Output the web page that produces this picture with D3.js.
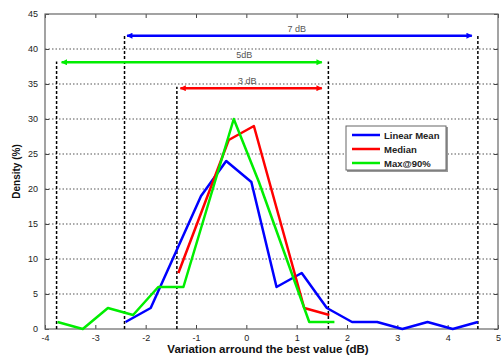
<!DOCTYPE html>
<html>
<head>
<meta charset="utf-8">
<script src="https://cdn.jsdelivr.net/npm/d3@7"></script>
<style>
  body { margin: 0; background: #fff; }
  svg { display: block; font-family: Arial, "Liberation Sans", sans-serif; }
</style>
</head>
<body>
<svg id="chart" width="501" height="356"></svg>
<script>
// Linear mean
const meanX = [-2.4, -1.9, -1.4, -0.9, -0.4, 0.1, 0.6, 1.1, 1.6, 2.1, 2.6, 3.1, 3.6, 4.1, 4.6];
const meanY = [1, 3, 11, 19, 24, 21, 6, 8, 3, 1, 1, 0, 1, 0, 1];
// Median
const medianX = [-1.35, -0.85, -0.35, 0.15, 0.65, 1.15, 1.65];
const medianY = [8, 17.5, 27, 29, 16, 3, 2];
// Max@90%
const maxX = [-3.75, -3.25, -2.75, -2.25, -1.75, -1.25, -0.75, -0.25, 0.25, 0.75, 1.25, 1.75];
const maxY = [1, 0, 3, 2, 6, 6, 18, 30, 21, 11, 1, 1];

const seriesNames = ['Linear Mean', 'Median', 'Max@90%'];
const seriesColors = ['#0000ff', '#ff0000', '#00ee00'];

const xTicks = [-4, -3, -2, -1, 0, 1, 2, 3, 4, 5];
const yTicks = [0, 5, 10, 15, 20, 25, 30, 35, 40, 45];

// spread markers: [x, top]
const vLines = [[-3.77, 38.2], [-2.42, 42], [-1.38, 34.6], [1.63, 38.2], [4.6, 42]];
// spread arrows (blue 7 dB, green 5 dB, red 3 dB)
const arrowFrom = [-2.37, -3.67, -1.31];
const arrowTo = [4.48, 1.5, 1.5];
const arrowY = [41.9, 38.1, 34.4];
const arrowLabels = ['7 dB', '5dB', '3 dB'];
const arrowColors = ['#0000ff', '#00ee00', '#ff0000'];
const labelX = [1.0, -0.04, 0.02];

const svg = d3.select('#chart');
const margin = { top: 14, right: 2, bottom: 27, left: 45 };
const height = 356 - margin.top - margin.bottom;

const x = d3.scaleLinear().domain([-4, 5]).range([0, 453]);
const y = d3.scaleLinear().domain([0, 45]).range([height, 0]);

const defs = svg.append('defs');
arrowColors.forEach((c, i) => {
  defs.append('marker')
    .attr('id', 'ah' + i)
    .attr('viewBox', '0 0 10 10')
    .attr('refX', 9).attr('refY', 5)
    .attr('markerWidth', 9).attr('markerHeight', 6)
    .attr('markerUnits', 'userSpaceOnUse')
    .attr('orient', 'auto-start-reverse')
    .append('path')
    .attr('d', 'M0,0 L10,5 L0,10 z')
    .attr('fill', c);
});

const g = svg.append('g').attr('transform', `translate(${margin.left},${margin.top})`);

// horizontal grid
g.append('g')
  .selectAll('line')
  .data(yTicks.filter(t => t > 0 && t < 45))
  .enter().append('line')
  .attr('x1', 0).attr('x2', x(5))
  .attr('y1', d => y(d)).attr('y2', d => y(d))
  .attr('stroke', '#555')
  .attr('stroke-width', 1.2)
  .attr('stroke-dasharray', '1.5,2');

// axes
const tickFont = g => g.selectAll('text').attr('font-size', 9).attr('fill', '#222');
g.append('g')
  .attr('transform', `translate(0,${height})`)
  .call(d3.axisBottom(x).tickValues(xTicks).tickSizeInner(-4).tickSizeOuter(0).tickPadding(6).tickFormat(d => String(d)))
  .call(tickFont)
  .call(a => a.select('.domain').remove());
g.append('g')
  .call(d3.axisTop(x).tickValues(xTicks).tickSizeInner(-4).tickSizeOuter(0).tickFormat(''))
  .call(a => a.select('.domain').remove());
g.append('g')
  .call(d3.axisLeft(y).tickValues(yTicks).tickSizeInner(-4).tickSizeOuter(0).tickPadding(7))
  .call(tickFont)
  .call(a => a.select('.domain').remove());
g.append('g')
  .attr('transform', `translate(${x(5)},0)`)
  .call(d3.axisRight(y).tickValues(yTicks).tickSizeInner(-4).tickSizeOuter(0).tickFormat(''))
  .call(a => a.select('.domain').remove());
g.selectAll('.tick line').attr('stroke', '#444');

// frame
g.append('rect')
  .attr('x', 0).attr('y', 0)
  .attr('width', x(5)).attr('height', height)
  .attr('fill', 'none').attr('stroke', '#666').attr('stroke-width', 1.2);

// vertical dashed markers
g.append('g')
  .selectAll('line')
  .data(vLines)
  .enter().append('line')
  .attr('x1', d => x(d[0])).attr('x2', d => x(d[0]))
  .attr('y1', y(0)).attr('y2', d => y(d[1]))
  .attr('stroke', '#000')
  .attr('stroke-width', 1.5)
  .attr('stroke-dasharray', '3,2');

// arrows
arrowY.forEach((v, i) => {
  g.append('line')
    .attr('x1', x(arrowFrom[i])).attr('x2', x(arrowTo[i]))
    .attr('y1', y(v)).attr('y2', y(v))
    .attr('stroke', arrowColors[i])
    .attr('stroke-width', 2.5)
    .attr('marker-start', `url(#ah${i})`)
    .attr('marker-end', `url(#ah${i})`);
  g.append('text')
    .attr('x', x(labelX[i]))
    .attr('y', y(v) - 4)
    .attr('text-anchor', 'middle')
    .attr('font-size', 9)
    .attr('fill', '#555')
    .text(arrowLabels[i]);
});

// series
const line = d3.line().x(d => x(d[0])).y(d => y(d[1]));
const series = [
  d3.zip(meanX, meanY),
  d3.zip(medianX, medianY),
  d3.zip(maxX, maxY)
];
series.forEach((s, i) => {
  g.append('path')
    .datum(s)
    .attr('fill', 'none')
    .attr('stroke', seriesColors[i])
    .attr('stroke-width', 2.5)
    .attr('stroke-linejoin', 'round')
    .attr('d', line);
});

// legend
const lg = g.append('g').attr('transform', `translate(${346 - margin.left},${126 - margin.top})`);
lg.append('rect')
  .attr('x', 1).attr('y', 1).attr('width', 101).attr('height', 45)
  .attr('fill', '#999');
lg.append('rect')
  .attr('width', 100).attr('height', 44)
  .attr('fill', '#fff').attr('stroke', '#666').attr('stroke-width', 1);
seriesNames.forEach((n, i) => {
  const yy = 9 + i * 14;
  lg.append('line')
    .attr('x1', 6).attr('x2', 34)
    .attr('y1', yy).attr('y2', yy)
    .attr('stroke', seriesColors[i]).attr('stroke-width', 2.5);
  lg.append('text')
    .attr('x', 38).attr('y', yy + 3.5)
    .attr('font-size', 9.5).attr('font-weight', 'bold')
    .attr('fill', '#222')
    .text(n);
});

// axis labels
svg.append('text')
  .attr('x', 268)
  .attr('y', 353)
  .attr('text-anchor', 'middle')
  .attr('font-size', 11.5).attr('font-weight', 'bold')
  .attr('fill', '#111')
  .text('Variation arround the best value (dB)');
svg.append('text')
  .attr('transform', `translate(20,${margin.top + height / 2}) rotate(-90)`)
  .attr('text-anchor', 'middle')
  .attr('font-size', 10).attr('font-weight', 'bold')
  .attr('fill', '#111')
  .text('Density (%)');
</script>
</body>
</html>
